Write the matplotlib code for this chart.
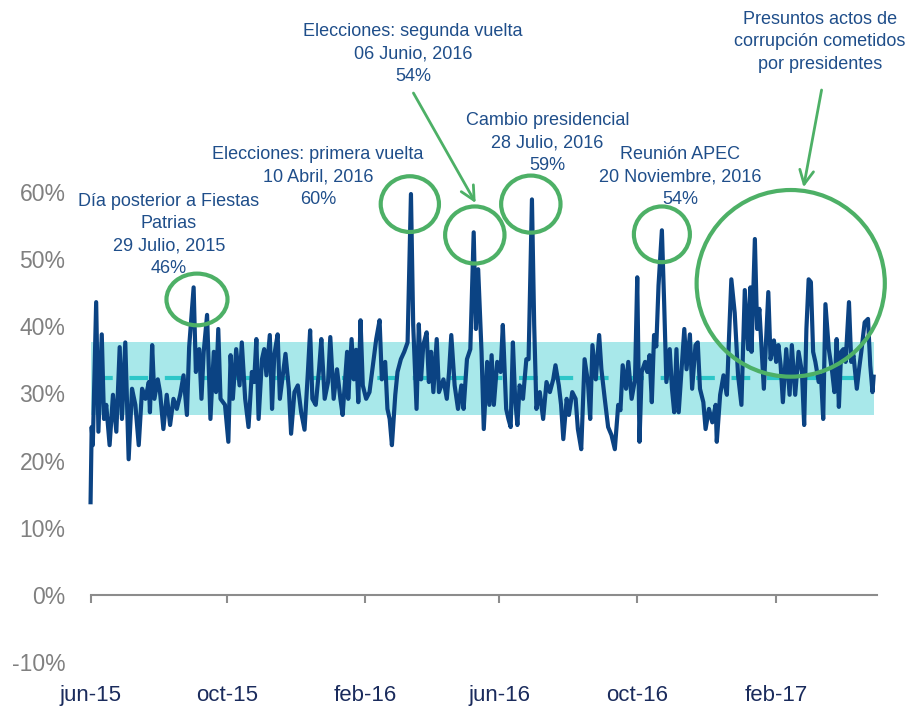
import matplotlib
matplotlib.use("Agg")
import matplotlib.pyplot as plt
from matplotlib.patches import Ellipse
import numpy as np

plt.rcParams['font.family'] = ['Liberation Sans', 'DejaVu Sans']

# day index since start of series (jun-15) and daily share (%)
days = [0, 1, 2, 5, 7, 10, 12, 14, 17, 20, 23, 26, 28, 31, 34, 37, 40, 43, 46, 49,
        52, 53, 55, 57, 60, 62, 65, 68, 71, 74, 77, 80, 83, 86, 88, 92, 94, 97, 99, 101,
        104, 107, 110, 112, 114, 116, 120, 123, 125, 127, 130, 133, 135, 138, 141, 144, 146, 148, 150, 153,
        155, 157, 160, 162, 164, 167, 169, 172, 174, 177, 179, 182, 185, 188, 191, 194, 196, 198, 201, 204,
        206, 209, 212, 214, 217, 220, 223, 225, 229, 230, 233, 235, 237, 239, 241, 243, 246, 249, 252, 255,
        258, 260, 263, 265, 267, 269, 272, 274, 277, 280, 283, 286, 288, 291, 293, 295, 297, 300, 302, 304,
        306, 309, 311, 315, 318, 320, 322, 325, 328, 331, 333, 336, 339, 342, 344, 346, 349, 351, 354, 356,
        358, 360, 363, 366, 368, 371, 373, 375, 377, 379, 381, 383, 386, 389, 391, 394, 396, 398, 401, 404,
        407, 410, 413, 415, 418, 420, 422, 425, 427, 430, 433, 435, 438, 441, 444, 446, 448, 451, 454, 456,
        459, 462, 465, 468, 471, 473, 475, 478, 480, 483, 486, 488, 490, 492, 495, 497, 499, 501, 503, 505,
        507, 510, 512, 514, 517, 519, 521, 523, 525, 528, 530, 532, 535, 537, 540, 542, 544, 547, 549, 552,
        555, 558, 559, 562, 565, 568, 570, 572, 575, 578, 581, 584, 587, 589, 590, 593, 595, 597, 599, 601,
        605, 607, 610, 612, 614, 616, 618, 621, 624, 626, 629, 632, 635, 637, 639, 641, 643, 645, 647, 650,
        652, 654, 656, 659, 662, 664, 666, 668, 670, 672, 674, 677, 679, 681, 684, 686, 688, 691, 694, 696,
        698, 699]
share = [13.8, 25.0, 22.3, 43.6, 24.3, 38.8, 26.2, 28.3, 22.3, 29.8, 24.3, 36.9, 26.2, 37.6, 20.2, 30.7, 28.3, 22.3, 30.7, 29.2,
         31.7, 27.2, 37.2, 29.2, 32.1, 30.2, 24.7, 29.8, 25.3, 29.2, 27.7, 29.8, 32.7, 26.8, 36.9, 45.8, 33.2, 36.6, 29.2, 36.2,
         41.7, 26.2, 36.2, 30.2, 39.6, 29.2, 28.3, 22.8, 35.7, 29.2, 36.6, 31.2, 37.6, 29.2, 25.0, 33.2, 31.7, 38.1, 26.2, 35.1,
         36.6, 32.7, 38.7, 27.7, 35.7, 38.8, 29.2, 33.2, 35.9, 30.7, 24.0, 30.2, 31.2, 27.2, 24.6, 33.2, 39.4, 29.2, 28.3, 33.6,
         38.1, 29.2, 31.7, 38.4, 29.2, 33.6, 29.2, 26.8, 36.2, 29.2, 38.1, 32.1, 36.5, 28.7, 40.9, 31.2, 29.2, 30.2, 34.2, 38.1,
         40.9, 32.1, 34.7, 27.7, 26.2, 22.3, 29.8, 33.2, 35.1, 36.2, 37.6, 59.7, 40.2, 27.7, 40.3, 32.1, 37.2, 39.1, 31.7, 36.2,
         30.2, 38.1, 30.2, 32.1, 29.2, 33.2, 38.7, 31.2, 27.7, 31.2, 27.7, 35.1, 36.6, 54.0, 39.6, 48.5, 36.2, 24.7, 34.7, 28.3,
         35.7, 28.3, 34.7, 33.2, 40.2, 27.7, 26.2, 25.0, 37.6, 29.2, 25.3, 31.2, 29.2, 35.1, 35.1, 58.9, 40.2, 27.7, 30.2, 26.2,
         31.7, 30.2, 32.1, 34.2, 31.2, 28.3, 23.2, 29.2, 26.8, 30.2, 29.2, 24.7, 21.7, 35.1, 31.7, 26.2, 37.2, 32.1, 38.7, 33.6,
         29.2, 25.0, 23.8, 21.7, 28.3, 27.5, 34.2, 30.7, 34.7, 29.2, 32.1, 47.3, 22.8, 33.2, 34.7, 33.2, 35.7, 28.7, 38.7, 37.0,
         46.1, 54.3, 43.6, 31.7, 36.6, 30.7, 27.2, 36.6, 27.2, 34.7, 39.6, 33.6, 38.8, 30.7, 37.2, 37.6, 30.7, 28.7, 24.7, 27.7,
         25.7, 28.3, 22.8, 29.8, 32.7, 29.8, 38.7, 47.0, 42.0, 32.7, 28.3, 45.4, 36.6, 45.8, 36.2, 53.0, 39.6, 42.6, 36.6, 30.7,
         45.1, 35.1, 37.9, 34.7, 37.2, 34.2, 28.7, 36.6, 29.8, 37.2, 29.8, 36.2, 33.2, 25.3, 39.6, 47.0, 46.6, 36.2, 34.7, 31.7,
         32.7, 26.2, 43.3, 36.6, 33.2, 30.2, 38.1, 28.0, 36.2, 36.6, 34.7, 43.6, 34.7, 35.7, 30.7, 33.6, 36.2, 40.6, 41.1, 34.2,
         30.2, 32.5]

band_low = 26.8
band_high = 37.7
mean_share = 32.3

tick_days = [0, 122, 245, 365, 488, 612]
tick_labels = ['jun-15', 'oct-15', 'feb-16', 'jun-16', 'oct-16', 'feb-17']

# (text, x day, y %) for the event notes
notes = [
    ("Día posterior a Fiestas\nPatrias\n29 Julio, 2015\n46%", 70, 53.6),
    ("Elecciones: primera vuelta\n10 Abril, 2016\n60%", 203, 62.2),
    ("Elecciones: segunda vuelta\n06 Junio, 2016\n54%", 288, 80.5),
    ("Cambio presidencial\n28 Julio, 2016\n59%", 408, 67.3),
    ("Reunión APEC\n20 Noviembre, 2016\n54%", 526, 62.2),
    ("Presuntos actos de\ncorrupción cometidos\npor presidentes", 651, 82.4),
]
# circles: center day, center %, width days, height %
circles = [
    (95, 44.0, 54.5, 7.7),
    (285, 58.2, 52, 8.3),
    (343, 53.6, 53, 8.5),
    (393, 58.2, 53, 8.5),
    (510, 53.7, 50, 8.3),
    (625, 46.4, 168, 27.8),
]

navy = '#0B4383'
green = '#4DB066'
text_blue = '#1F4E8A'

fig = plt.figure(figsize=(9.12, 7.07), dpi=100)
ax = fig.add_axes([0.0993, 0.0636, 0.8623, 0.6648])

x = np.array(days)
ax.fill_between([0, 699], band_low, band_high, color='#A8E8EA', lw=0, zorder=1)
ax.plot([3, 696], [mean_share, mean_share], color='#2DC6C8', lw=3, ls=(0, (4.5, 4)), zorder=2)
ax.plot(x, share, color=navy, lw=3.0, zorder=3, solid_joinstyle='round', clip_on=False)

for cx, cy, w, h in circles:
    ax.add_patch(Ellipse((cx, cy), w, h, fill=False, ec=green, lw=3, clip_on=False, zorder=4))

for txt, tx, ty in notes:
    ax.text(tx, ty, txt, ha='center', va='center', fontsize=13, color=text_blue,
            linespacing=1.42, clip_on=False)

arrow = dict(arrowstyle='->,head_length=1.0,head_width=0.5', color=green, lw=2)
ax.annotate('', xy=(345, 58.0), xytext=(287, 75.1), arrowprops=arrow, annotation_clip=False)
ax.annotate('', xy=(636, 60.3), xytext=(653, 75.6), arrowprops=arrow, annotation_clip=False)

ax.set_xlim(0, 702)
ax.set_ylim(-10, 60)
ax.set_yticks(range(-10, 61, 10))
ax.set_yticklabels([f'{v}%' for v in range(-10, 61, 10)])
ax.tick_params(axis='y', length=0, pad=18, labelsize=16.5, labelcolor='#808080')

ax.spines['bottom'].set_position(('data', 0))
ax.spines['bottom'].set_color('#8C8C8C')
ax.spines['bottom'].set_linewidth(1.5)
for s in ['top', 'right', 'left']:
    ax.spines[s].set_visible(False)
ax.set_xticks(tick_days)
ax.set_xticklabels(tick_labels)
ax.tick_params(axis='x', length=6, width=1.5, color='#8C8C8C', pad=59,
               labelsize=16, labelcolor='#1A2B5C')

fig.savefig('out.png', dpi=100)
